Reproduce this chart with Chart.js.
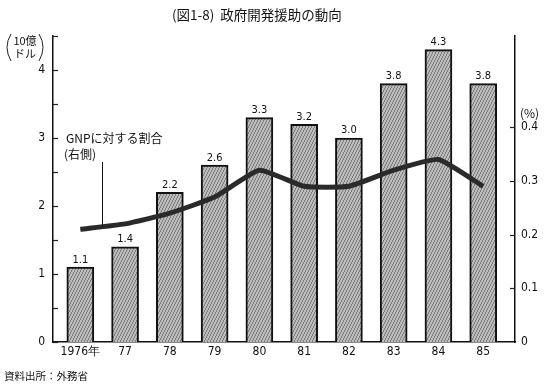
<!DOCTYPE html>
<html>
<head>
<meta charset="utf-8">
<script src="https://cdn.jsdelivr.net/npm/chart.js@4.4.1/dist/chart.umd.min.js"></script>
<style>
html,body{margin:0;padding:0;background:#fff;}
#wrap{width:552px;height:384px;position:relative;}
</style>
</head>
<body>
<div id="wrap"><canvas id="c" width="552" height="384"></canvas></div>
<script>
// ---- data ----
const categories = ['1976年','77','78','79','80','81','82','83','84','85'];
const odaBillionUSD = [1.1, 1.4, 2.2, 2.6, 3.3, 3.2, 3.0, 3.8, 4.3, 3.8];
const gnpRatioPct = [0.21, 0.22, 0.24, 0.27, 0.32, 0.29, 0.29, 0.32, 0.34, 0.29];
const leftTicks = [0, 1, 2, 3, 4];
const rightTicks = [0, 0.1, 0.2, 0.3, 0.4];

const titleText = '(図1-8)  政府開発援助の動向';
const seriesNote = ['GNPに対する割合', '(右側)'];
const leftUnit = ['10億', 'ドル'];
const rightUnit = '(%)';
const sourceText = '資料出所：外務省';

const NUM_FONT = "'Liberation Sans Narrow','DejaVu Sans Condensed','Liberation Sans',sans-serif";
const JP_FONT = "'Noto Sans CJK JP','Noto Sans',sans-serif";

// hatched gray pattern for bars
function makePattern(){
  const p = document.createElement('canvas');
  p.width = 3; p.height = 6;
  const g = p.getContext('2d');
  g.fillStyle = '#bcbcbc'; g.fillRect(0,0,3,6);
  g.fillStyle = '#7e7e7e';
  g.fillRect(0,4,1,2); g.fillRect(1,2,1,2); g.fillRect(2,0,1,2);
  return g.createPattern(p, 'repeat');
}
const ctx0 = document.getElementById('c').getContext('2d');
const barFill = makePattern();

const extras = {
  id: 'extras',
  afterDatasetsDraw(chart){
    const ctx = chart.ctx;
    const meta = chart.getDatasetMeta(0);
    ctx.save();
    ctx.fillStyle = '#111';
    ctx.font = "11px " + NUM_FONT;
    ctx.textAlign = 'center';
    ctx.textBaseline = 'bottom';
    meta.data.forEach((el, i) => {
      ctx.fillText(odaBillionUSD[i].toFixed(1), el.x, el.y - 2);
    });
    ctx.restore();
  },
  afterDraw(chart){
    const ctx = chart.ctx;
    const ys = chart.scales.y, y2 = chart.scales.y2, xs = chart.scales.x;
    const area = chart.chartArea;
    ctx.save();
    // inward ticks
    ctx.strokeStyle = '#222';
    ctx.lineWidth = 1.2;
    ys.ticks.forEach(t => {
      const py = Math.round(ys.getPixelForValue(t.value)) + 0.5;
      ctx.beginPath(); ctx.moveTo(area.left, py); ctx.lineTo(area.left + 5, py); ctx.stroke();
    });
    y2.ticks.forEach(t => {
      if (t.value === 0) return;
      const py = Math.round(y2.getPixelForValue(t.value)) + 0.5;
      ctx.beginPath(); ctx.moveTo(area.right - 5, py); ctx.lineTo(area.right, py); ctx.stroke();
    });
    // title
    ctx.fillStyle = '#111';
    ctx.textBaseline = 'middle';
    ctx.textAlign = 'left';
    ctx.font = "13.5px " + JP_FONT;
    ctx.fillText(titleText, 172, 15);
    // left unit label with big parentheses
    ctx.font = "11px " + JP_FONT;
    ctx.textAlign = 'center';
    ctx.fillText(leftUnit[0], 25, 41);
    ctx.fillText(leftUnit[1], 25, 54);
    ctx.lineWidth = 1;
    ctx.beginPath(); ctx.moveTo(11, 34); ctx.quadraticCurveTo(3, 47, 11, 61); ctx.stroke();
    ctx.beginPath(); ctx.moveTo(39, 34); ctx.quadraticCurveTo(47, 47, 39, 61); ctx.stroke();
    // right unit
    ctx.textAlign = 'left';
    ctx.font = "12px " + JP_FONT;
    ctx.fillText(rightUnit, 520, 113);
    // series note
    ctx.font = "12px " + JP_FONT;
    ctx.fillText(seriesNote[0], 66, 138);
    ctx.fillText(seriesNote[1], 64, 154);
    // leader line to the ratio line
    const lx = xs.getPixelForValue(0.48);
    const ly = y2.getPixelForValue(gnpRatioPct[0] + (gnpRatioPct[1]-gnpRatioPct[0])*0.48);
    ctx.lineWidth = 1;
    ctx.strokeStyle = '#111';
    ctx.beginPath(); ctx.moveTo(Math.round(lx)+0.5, 162); ctx.lineTo(Math.round(lx)+0.5, ly); ctx.stroke();
    // source
    ctx.font = "10.5px " + JP_FONT;
    ctx.fillText(sourceText, 4, 376);
    ctx.restore();
  }
};

new Chart(ctx0, {
  type: 'bar',
  data: {
    datasets: [
      {
        type: 'bar',
        data: odaBillionUSD.map((v, i) => ({x: i, y: v})),
        yAxisID: 'y',
        backgroundColor: barFill,
        borderColor: '#111',
        borderWidth: 2,
        borderSkipped: 'bottom',
        barThickness: 27,
        order: 1
      },
      {
        type: 'line',
        data: gnpRatioPct.map((v, i) => ({x: i, y: v})),
        yAxisID: 'y2',
        borderColor: '#2a2a2a',
        borderWidth: 5,
        pointRadius: 0,
        tension: 0.15,
        fill: false,
        order: 0
      }
    ]
  },
  options: {
    responsive: false,
    animation: false,
    events: [],
    layout: { padding: { top: 36, left: 0, right: 0, bottom: 0 } },
    plugins: { legend: { display: false }, tooltip: { enabled: false }, title: { display: false } },
    scales: {
      x: {
        type: 'linear',
        offset: false,
        min: -0.61,
        max: 9.71,
        afterBuildTicks: s => { s.ticks = categories.map((c, i) => ({value: i})); },
        afterFit: s => { s.height = 42; },
        ticks: {
          callback: v => categories[v],
          color: '#111',
          font: { family: NUM_FONT, size: 12 },
          padding: 3,
          maxRotation: 0,
          autoSkip: false
        },
        grid: { display: false, drawTicks: false },
        border: { display: true, color: '#111', width: 1.5 }
      },
      y: {
        position: 'left',
        min: 0,
        max: 4.5,
        afterBuildTicks: s => {
          const t = [];
          for (let v = 0; v <= 4.5001; v += 0.5) t.push({value: Math.round(v*10)/10});
          s.ticks = t;
        },
        afterFit: s => { s.width = 53; },
        ticks: {
          callback: v => leftTicks.includes(v) ? String(v) : '',
          color: '#111',
          font: { family: NUM_FONT, size: 12 },
          padding: 8,
          autoSkip: false
        },
        grid: { display: false, drawTicks: false },
        border: { display: true, color: '#111', width: 1.5 }
      },
      y2: {
        position: 'right',
        min: 0,
        max: 0.57,
        afterBuildTicks: s => { s.ticks = rightTicks.map(v => ({value: v})); },
        afterFit: s => { s.width = 37; },
        ticks: {
          callback: v => v === 0 ? '0' : v.toFixed(1),
          color: '#111',
          font: { family: NUM_FONT, size: 12 },
          padding: 6,
          autoSkip: false
        },
        grid: { display: false, drawTicks: false },
        border: { display: true, color: '#111', width: 1.5 }
      }
    }
  },
  plugins: [extras]
});
</script>
</body>
</html>
